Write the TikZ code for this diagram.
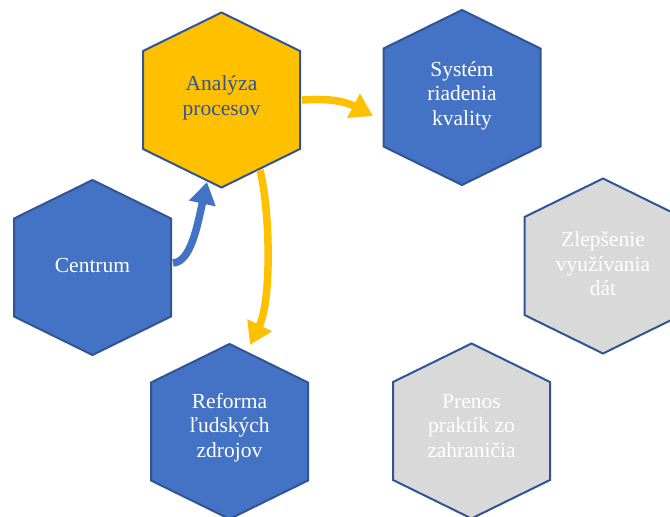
\documentclass[tikz,border=0pt]{standalone}
\usepackage{fontspec}
\setmainfont{Liberation Serif}
\usetikzlibrary{calc,arrows.meta}
\definecolor{hexblue}{HTML}{4472C4}
\definecolor{hexborder}{HTML}{2F5597}
\definecolor{hexgrey}{HTML}{D9D9D9}
\definecolor{hexgold}{HTML}{FFC000}
\newcommand\myhex[3]{% name, position, fill
  \coordinate (#1) at (#2);
  \draw[hexline, fill=#3] ($(#1)+(0,-87.5)$) -- ($(#1)+(78.5,-49)$) -- ($(#1)+(78.5,49)$)
    -- ($(#1)+(0,87.5)$) -- ($(#1)+(-78.5,49)$) -- ($(#1)+(-78.5,-49)$) -- cycle;}
\tikzset{
  hexline/.style={draw=hexborder, line width=2pt, line join=miter},
  hextext/.style={align=center, font=\fontsize{21.5}{24.5}\selectfont, inner sep=0pt},
  goldarrow/.style={draw=hexgold, line width=7.5pt, -{Triangle[length=22pt,width=26pt]}},
  bluearrow/.style={draw=hexblue, line width=7.5pt, -{Triangle[length=22pt,width=26pt]}}
}
\begin{document}
\begin{tikzpicture}[x=1pt, y=-1pt]
\useasboundingbox (0,0) rectangle (670,517);
\myhex{ana}{221.5,100}{hexgold}
\myhex{sys}{462,97.5}{hexblue}
\myhex{cen}{92.5,267.5}{hexblue}
\myhex{zle}{603,266}{hexgrey}
\myhex{ref}{229.5,431.5}{hexblue}
\myhex{pre}{471.5,431}{hexgrey}
\node[hextext, text=hexborder] (anat) at ($(ana)+(0,-2)$) {Analýza\\procesov};
\node[hextext, text=white] (syst) at ($(sys)+(0,-2)$) {Systém\\riadenia\\kvality};
\node[hextext, text=white] (cent) at ($(cen)+(0,-2)$) {Centrum};
\node[hextext, text=white] (zlet) at ($(zle)+(0,-2)$) {Zlepšenie\\využívania\\dát};
\node[hextext, text=white] (reft) at ($(ref)+(0,-4)$) {Reforma\\ľudských\\zdrojov};
\node[hextext, text=white] (pret) at ($(pre)+(0,-5)$) {Prenos\\praktík zo\\zahraničia};
\draw[goldarrow] ($(ana)+(80.5,0)$) .. controls ($(ana)+(110,-2)$) and ($(ana)+(125,2)$) .. ($(sys)+(-89,18.5)$);
\draw[goldarrow] ($(ana)+(38.5,70)$) .. controls ($(ana)+(48.5,110)$) and ($(ana)+(50.5,200)$) .. ($(ref)+(20.5,-86.5)$);
\draw[bluearrow] ($(cen)+(80.5,-4.5)$) .. controls ($(cen)+(98,-5.5)$) and ($(cen)+(104.5,-40)$) .. ($(ana)+(-14.5,82)$);
\end{tikzpicture}
\end{document}
